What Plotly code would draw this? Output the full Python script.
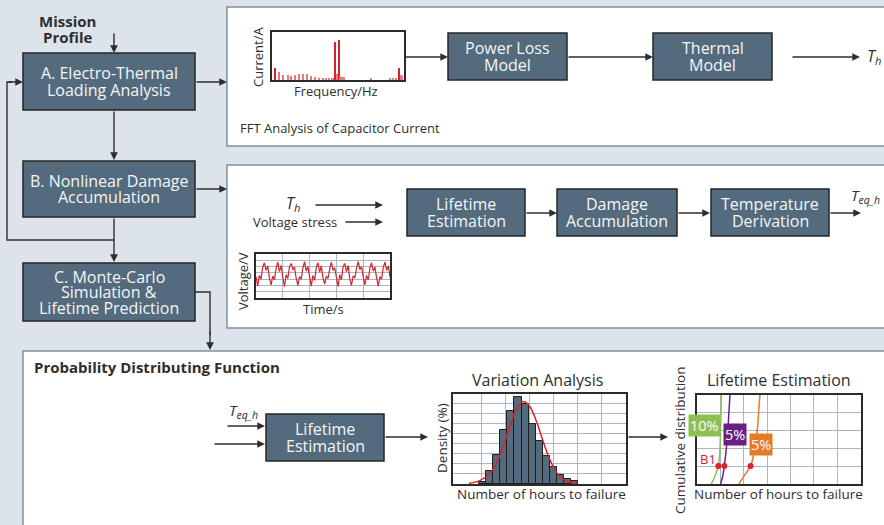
import numpy as np
import plotly.graph_objects as go

W, H = 884, 525

# ---------------- data ----------------
# FFT spectrum of the capacitor current (relative frequency, relative amplitude)
fft_freq = [2.3, 5.5, 8.6, 11.8, 14.6, 17.6, 20.7, 23.4, 26.7, 29.5, 32.5, 35.3,
            38.3, 40.8, 43.3, 45.3, 46.6, 47.9, 48.9, 49.9, 50.9, 51.9, 52.9,
            54.4, 74.8, 89.2, 91.7, 93.7, 96.2, 97.5, 98.7]
fft_amp = [0.24, 0.17, 0.10, 0.10, 0.08, 0.10, 0.12, 0.12, 0.13, 0.08, 0.07, 0.05,
           0.03, 0.03, 0.03, 0.04, 0.05, 0.79, 0.12, 0.10, 0.83, 0.09, 0.06,
           0.07, 0.03, 0.03, 0.03, 0.04, 0.25, 0.10, 0.08]

# Voltage stress waveform (sampled every 0.125 time units)
voltage_v = [3.4, 1.9, 3.6, 3.0, 4.9, 5.6, 4.4, 5.1,
             3.2, 2.1, 3.5, 2.9, 4.7, 5.7, 4.2, 5.2,
             3.3, 1.8, 3.7, 3.1, 5.0, 5.5, 4.5, 4.9,
             3.1, 2.0, 3.4, 3.0, 4.8, 5.8, 4.3, 5.0,
             3.4, 1.9, 3.6, 2.8, 4.9, 5.6, 4.1, 5.1,
             3.2, 2.2, 3.5, 3.1, 4.6, 5.7, 4.4, 4.8,
             3.3, 1.8, 3.7, 2.9, 5.0, 5.5, 4.2, 5.2,
             3.0, 2.0, 3.5, 3.2, 4.7, 5.8, 4.5, 5.0,
             3.4, 2.1, 3.6, 2.9, 4.8, 5.6, 4.3, 4.9,
             3.2, 1.9, 3.4, 3.0, 4.9, 5.7, 4.4, 5.1,
             3.3]
voltage_t = np.arange(len(voltage_v)) * 0.125

# Histogram of hours to failure
hist_hours = [1.23, 1.52, 1.82, 2.11, 2.41, 2.70, 3.00, 3.29, 3.59, 3.88,
              4.18, 4.47, 4.77, 5.06]
hist_density = [0.23, 1.30, 2.90, 5.40, 7.30, 8.63, 7.97, 5.97, 4.33, 2.80,
                1.73, 0.90, 0.50, 0.30]
fit_hours = [0.67, 1.11, 1.53, 1.81, 2.08, 2.36, 2.64, 2.92, 3.19, 3.47,
             3.75, 4.03, 4.31, 4.58, 4.86, 5.14]
fit_density = [0.07, 0.33, 1.07, 2.07, 3.67, 5.73, 7.47, 8.23, 7.73, 6.23,
               4.23, 2.40, 1.13, 0.47, 0.17, 0.00]

# Cumulative failure curves
cdf_green_x = [0.61, 0.76, 0.86, 0.91, 0.96, 0.99, 1.01, 1.03, 1.04]
cdf_green_y = [0.00, 0.41, 0.79, 1.01, 1.54, 2.28, 3.22, 4.16, 5.00]
cdf_purple_x = [1.01, 1.11, 1.17, 1.23, 1.29, 1.33, 1.37, 1.41]
cdf_purple_y = [0.00, 0.51, 1.01, 1.72, 2.47, 3.22, 4.16, 5.00]
cdf_orange_x = [1.79, 2.04, 2.29, 2.43, 2.51, 2.59, 2.64, 2.69]
cdf_orange_y = [0.00, 0.51, 1.01, 1.72, 2.47, 3.22, 4.16, 5.00]
b1_x = [0.91, 1.17, 2.29]
b1_y = [1.01, 1.01, 1.01]
spread_labels = ["10%", "5%", "5%"]

# ---------------- styling ----------------
BG = "#dde3ea"
BOX = "#536b7d"
EDGE = "#262626"
PANEL_EDGE = "#7f91a1"
INK = "#2e2e2e"
RED = "#d7232b"
GRID = "#aab7c3"
GREEN = "#8cc152"
PURPLE = "#6b2180"
ORANGE = "#e37b29"
FONT = "Open Sans"

shapes = []
annotations = []


def px(x):
    return x / W


def py(y):
    return 1 - y / H


def rect(x0, y0, x1, y1, fill, color, width):
    shapes.append(dict(type="rect", xref="paper", yref="paper",
                       x0=px(x0), x1=px(x1), y0=py(y1), y1=py(y0),
                       fillcolor=fill, line=dict(color=color, width=width),
                       layer="below"))


def text(x, y, s, size=13, color=INK, xanchor="center", angle=0, bold=False):
    if bold:
        s = "<b>" + s + "</b>"
    annotations.append(dict(x=px(x), y=py(y), xref="paper", yref="paper",
                            text=s, showarrow=False, textangle=angle,
                            xanchor=xanchor, yanchor="middle",
                            font=dict(family=FONT, size=size, color=color)))


def block(x0, y0, x1, y1, lines, size=16, step=16.5):
    rect(x0, y0, x1, y1, BOX, EDGE, 1.5)
    cy = (y0 + y1) / 2
    n = len(lines)
    for i, s in enumerate(lines):
        text((x0 + x1) / 2, cy + (i - (n - 1) / 2) * step, s, size=size,
             color="#f4f6f8")


def arrow(x0, y0, x1, y1):
    annotations.append(dict(x=px(x1), y=py(y1), xref="paper", yref="paper",
                            ax=x0 - x1, ay=y0 - y1, axref="pixel", ayref="pixel",
                            text="", showarrow=True, arrowhead=2, arrowsize=1.1,
                            arrowwidth=1.4, arrowcolor=INK, standoff=0))


def polyline(points):
    d = "M " + " L ".join(f"{px(x):.5f},{py(y):.5f}" for x, y in points)
    shapes.append(dict(type="path", xref="paper", yref="paper", path=d,
                       line=dict(color=INK, width=1.4), layer="above"))


# panels
rect(227, 7, 900, 146, "white", PANEL_EDGE, 1.5)
rect(227, 165, 900, 328, "white", PANEL_EDGE, 1.5)
rect(23, 351, 900, 540, "white", PANEL_EDGE, 1.5)

# left-hand process chain
text(67, 21, "Mission", size=15, color=INK, bold=True)
text(67, 37, "Profile", size=15, color=INK, bold=True)
block(23, 53, 195, 110, ["A. Electro-Thermal", "Loading Analysis"])
block(23, 161, 195, 217, ["B. Nonlinear Damage", "Accumulation"])
block(23, 263, 195, 321, ["C. Monte-Carlo", "Simulation &", "Lifetime Prediction"], step=15.5)

arrow(114, 32, 114, 53)
arrow(114, 110, 114, 160)
arrow(114, 217, 114, 262)
arrow(195, 82, 227, 82)
arrow(195, 189, 227, 189)
polyline([(114, 240), (7, 240), (7, 82), (12, 82)])
arrow(7, 82, 23, 82)
polyline([(195, 292), (210, 292), (210, 335)])
arrow(210, 330, 210, 350)

# panel 1: electro-thermal loading
text(258, 57, "Current/A", size=13, angle=-90)
text(336, 91, "Frequency/Hz", size=13)
text(238, 128, "FFT Analysis of Capacitor Current", size=13, xanchor="left")
arrow(404, 57, 448, 57)
block(448, 33, 567, 80, ["Power Loss", "Model"])
arrow(567, 57, 653, 57)
block(653, 33, 772, 80, ["Thermal", "Model"])
arrow(791, 57, 860, 57)
text(874, 57, "<i>T<sub>h</sub></i>", size=16)

# panel 2: nonlinear damage accumulation
text(293, 203, "<i>T<sub>h</sub></i>", size=16)
arrow(314, 205, 383, 205)
text(295, 222, "Voltage stress", size=13)
arrow(344, 222, 383, 222)
block(407, 189, 525, 236, ["Lifetime", "Estimation"])
arrow(525, 213, 557, 213)
block(557, 189, 677, 236, ["Damage", "Accumulation"])
arrow(677, 213, 710, 213)
block(711, 189, 829, 236, ["Temperature", "Derivation"])
arrow(829, 213, 861, 213)
text(865, 196, "<i>T<sub>eq_h</sub></i>", size=15)
text(243, 281, "Voltage/V", size=13, angle=-90)
text(323, 309, "Time/s", size=13)

# panel 3: probability distribution
text(32, 367, "Probability Distributing Function", size=15, xanchor="left", bold=True)
text(243, 411, "<i>T<sub>eq_h</sub></i>", size=15)
arrow(226, 426, 265, 426)
arrow(213, 444, 265, 444)
block(266, 414, 384, 461, ["Lifetime", "Estimation"])
arrow(384, 437, 428, 437)
text(537, 380, "Variation Analysis", size=16)
text(442, 438, "Density (%)", size=13.5, angle=-90)
text(541, 494, "Number of hours to failure", size=13.5)
arrow(627, 437, 668, 437)
text(779, 380, "Lifetime Estimation", size=16)
text(680, 440, "Cumulative distribution", size=13.5, angle=-90)
text(778, 494, "Number of hours to failure", size=13.5)

# spread labels on the lifetime curves
for (cx, cy), lab, col in zip([(704, 425), (735, 434), (761, 444)], spread_labels,
                              [GREEN, PURPLE, ORANGE]):
    annotations.append(dict(x=px(cx), y=py(cy), xref="paper", yref="paper",
                            xanchor="center", yanchor="middle",
                            text=lab, showarrow=False, bgcolor=col, borderpad=1,
                            font=dict(family=FONT, size=14.5, color="white")))
text(708, 459, "B1", size=13, color=RED)

fig = go.Figure()

# FFT spectrum
fft_colors = [RED if a > 0.2 else "#e57b80" for a in fft_amp]
fig.add_trace(go.Bar(x=fft_freq, y=fft_amp, width=0.8, marker=dict(color=fft_colors, line_width=0),
                     xaxis="x", yaxis="y"))
# voltage waveform
fig.add_trace(go.Scatter(x=voltage_t, y=voltage_v, mode="lines",
                         line=dict(color=RED, width=1.2), xaxis="x2", yaxis="y2"))
# histogram and fitted density
fig.add_trace(go.Bar(x=hist_hours, y=hist_density, width=0.295,
                     marker=dict(color=BOX, line=dict(color="#1e1e1e", width=1)),
                     xaxis="x3", yaxis="y3"))
fig.add_trace(go.Scatter(x=fit_hours, y=fit_density, mode="lines", line_shape="spline",
                         line=dict(color=RED, width=1.5), xaxis="x3", yaxis="y3"))
# cumulative curves
for cx, cy, col in [(cdf_green_x, cdf_green_y, GREEN), (cdf_purple_x, cdf_purple_y, PURPLE),
                    (cdf_orange_x, cdf_orange_y, ORANGE)]:
    fig.add_trace(go.Scatter(x=cx, y=cy, mode="lines", line_shape="spline",
                             line=dict(color=col, width=1.5), xaxis="x4", yaxis="y4"))
fig.add_trace(go.Scatter(x=b1_x, y=b1_y, mode="markers", marker=dict(color=RED, size=6),
                         xaxis="x4", yaxis="y4"))


def inset(x0, y0, x1, y1, xr, yr, xgrid=None, ygrid=None):
    frame = dict(showline=True, mirror=True, linecolor="#2b2b2b", linewidth=1.5,
                 zeroline=False, ticks="", showticklabels=False, fixedrange=True)
    xa = dict(frame, domain=[px(x0), px(x1)], range=xr,
              showgrid=xgrid is not None, gridcolor=GRID, gridwidth=1.3)
    ya = dict(frame, domain=[py(y1), py(y0)], range=yr,
              showgrid=ygrid is not None, gridcolor=GRID, gridwidth=1.3)
    if xgrid is not None:
        xa.update(tickmode="array", tickvals=xgrid)
    if ygrid is not None:
        ya.update(tickmode="array", tickvals=ygrid)
    return xa, ya


xa1, ya1 = inset(272, 32, 404, 80, [0, 100], [0, 1])
xa2, ya2 = inset(256, 254, 390, 298, [0, 10], [0, 7], [2, 4, 6, 8], [1, 2, 3, 4, 5, 6])
xa3, ya3 = inset(453, 394, 626, 484, [0, 7.19], [0, 8.97],
                 [1.18, 2.19, 3.19, 4.19, 5.18, 6.18], [1, 2, 3, 4, 5, 6, 7, 8])
xa4, ya4 = inset(697, 395, 861, 484, [0, 7.01], [0, 5], [1, 2, 3, 4, 5, 6], [1, 2, 3, 4])
ya1.update(anchor="x")
xa1.update(anchor="y")
xa2.update(anchor="y2"); ya2.update(anchor="x2")
xa3.update(anchor="y3"); ya3.update(anchor="x3")
xa4.update(anchor="y4"); ya4.update(anchor="x4")

fig.update_layout(
    width=W, height=H,
    margin=dict(l=0, r=0, t=0, b=0),
    paper_bgcolor=BG,
    plot_bgcolor="rgba(0,0,0,0)",
    showlegend=False,
    bargap=0,
    font=dict(family=FONT, color=INK),
    xaxis=xa1, yaxis=ya1,
    xaxis2=xa2, yaxis2=ya2,
    xaxis3=xa3, yaxis3=ya3,
    xaxis4=xa4, yaxis4=ya4,
    shapes=shapes,
    annotations=annotations,
)

fig.write_html("out.html", config={"displayModeBar": False})
